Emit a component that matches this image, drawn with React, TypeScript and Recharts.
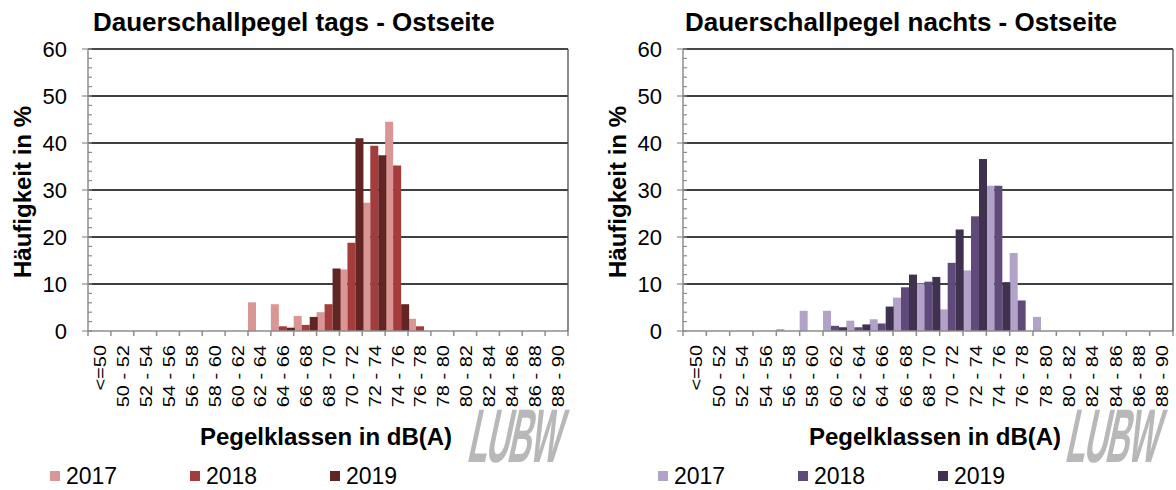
import React from "react";
import { BarChart, Bar, XAxis, YAxis, CartesianGrid, Legend } from "recharts";

// Pegelklassen (x categories)
const categories = [
  "<=50", "50 - 52", "52 - 54", "54 - 56", "56 - 58", "58 - 60", "60 - 62",
  "62 - 64", "64 - 66", "66 - 68", "68 - 70", "70 - 72", "72 - 74", "74 - 76",
  "76 - 78", "78 - 80", "80 - 82", "82 - 84", "84 - 86", "86 - 88", "88 - 90",
];
const years = ["2017", "2018", "2019"];

// Häufigkeit in %, tags
const tags2017 = [0, 0, 0, 0, 0, 0, 0, 6.1, 5.7, 3.2, 4.0, 13.1, 27.3, 44.5, 2.6, 0, 0, 0, 0, 0, 0];
const tags2018 = [0, 0, 0, 0, 0, 0, 0, 0, 1.0, 1.3, 5.7, 18.8, 39.4, 35.2, 1.0, 0, 0, 0, 0, 0, 0];
const tags2019 = [0, 0, 0, 0, 0, 0, 0, 0, 0.7, 3.0, 13.3, 41.0, 37.4, 5.7, 0, 0, 0, 0, 0, 0, 0];

// Häufigkeit in %, nachts
const nachts2017 = [0, 0, 0, 0, 0.4, 4.3, 4.3, 2.2, 2.5, 7.1, 10.1, 4.6, 12.9, 30.9, 16.6, 3.0, 0, 0, 0, 0, 0];
const nachts2018 = [0, 0, 0, 0, 0, 0, 1.1, 0.8, 1.6, 9.3, 10.5, 14.5, 24.4, 30.9, 6.5, 0, 0, 0, 0, 0, 0];
const nachts2019 = [0, 0, 0, 0, 0, 0, 0.8, 1.4, 5.2, 12.0, 11.5, 21.6, 36.6, 10.4, 0, 0, 0, 0, 0, 0, 0];

// y axis: minor ticks every 2, labels / gridlines every 10
const yTicks = [0, 2, 4, 6, 8, 10, 12, 14, 16, 18, 20, 22, 24, 26, 28, 30, 32, 34, 36, 38, 40, 42, 44, 46, 48, 50, 52, 54, 56, 58, 60];
const gridValues = [10, 20, 30, 40, 50, 60];

const tagsColors = ["#D99694", "#A33C3A", "#632523"];
const nachtsColors = ["#B3A2C7", "#604A7B", "#403151"];

const FONT = "'Liberation Sans', Arial, sans-serif";
const W = 588;
const H = 490;
const TOP = 48;
const XAXIS_H = 159;
const AXIS_GREY = "#8c8c8c";
const BORDER = "#4d4d4d";

type PanelProps = {
  left: number;
  title: string;
  series: number[][];
  colors: string[];
  axisW: number;
  rightM: number;
  titleX: number;
  yTitleX: number;
  xTitleX: number;
  legendX: number;
  logoX: number;
};

function Panel(p: PanelProps) {
  const data = categories.map((cat, i) => ({
    cat,
    v0: p.series[0][i],
    v1: p.series[1][i],
    v2: p.series[2][i],
  }));
  const plotW = W - p.axisW - p.rightM - 1;
  const half = plotW / categories.length / 2;

  // category boundary ticks + rotated labels
  const XTick = (props: any) => {
    const { x, y, payload, index } = props;
    return (
      <g>
        <line x1={x - half} x2={x - half} y1={y} y2={y + 5} stroke={AXIS_GREY} strokeWidth={1.5} />
        {index === categories.length - 1 && (
          <line x1={x + half} x2={x + half} y1={y} y2={y + 5} stroke={AXIS_GREY} strokeWidth={1.5} />
        )}
        <text
          transform={`translate(${x + 7},${y + 14}) scale(0.8,1) rotate(-90)`}
          textAnchor="end"
          fontSize={20}
          fontFamily={FONT}
          fill="#000"
        >
          {payload.value}
        </text>
      </g>
    );
  };

  const YTick = (props: any) => {
    const { x, y, payload } = props;
    const major = payload.value % 10 === 0;
    return (
      <g>
        <line x1={major ? x - 6 : x} x2={x + 4} y1={y} y2={y} stroke={AXIS_GREY} strokeWidth={1.2} />
        {major && (
          <text x={x - 21} y={y} dy={8} textAnchor="end" fontSize={22} fontFamily={FONT} fill="#000">
            {payload.value}
          </text>
        )}
      </g>
    );
  };

  return (
    <div style={{ position: "absolute", left: p.left, top: 0, width: W, height: H }}>
      <BarChart
        width={W}
        height={H}
        data={data}
        margin={{ top: TOP, right: p.rightM, bottom: 0, left: 0 }}
        barCategoryGap={0}
        barGap={0}
      >
        <CartesianGrid vertical={false} stroke="#000" strokeWidth={1.3} horizontalValues={gridValues} />
        <XAxis
          dataKey="cat"
          interval={0}
          height={XAXIS_H}
          tickSize={0}
          tickMargin={0}
          tickLine={false}
          axisLine={{ stroke: AXIS_GREY, strokeWidth: 1.5 }}
          tick={<XTick />}
        />
        <XAxis
          xAxisId="top"
          dataKey="cat"
          orientation="top"
          height={1}
          tick={false}
          tickLine={false}
          axisLine={{ stroke: BORDER, strokeWidth: 1.3 }}
        />
        <YAxis
          domain={[0, 60]}
          ticks={yTicks}
          interval={0}
          width={p.axisW}
          tickSize={0}
          tickMargin={0}
          tickLine={false}
          axisLine={{ stroke: AXIS_GREY, strokeWidth: 1.5 }}
          tick={<YTick />}
        />
        <YAxis
          yAxisId="right"
          orientation="right"
          domain={[0, 60]}
          width={1}
          tick={false}
          tickLine={false}
          axisLine={{ stroke: BORDER, strokeWidth: 1.3 }}
        />
        {years.map((yr, i) => (
          <Bar key={yr} dataKey={`v${i}`} name={yr} fill={p.colors[i]} isAnimationActive={false} />
        ))}
        <Legend
          layout="horizontal"
          verticalAlign="middle"
          align="center"
          wrapperStyle={{ left: p.legendX, top: 462, width: 440, height: 28 }}
          content={(lp: any) => (
            <div style={{ display: "flex", fontFamily: FONT, fontSize: 23, color: "#000", lineHeight: "28px" }}>
              {(lp.payload || []).map((e: any) => (
                <div key={e.value} style={{ width: 140, display: "flex", alignItems: "center" }}>
                  <span style={{ width: 10, height: 10, background: e.color, marginRight: 6, display: "inline-block" }} />
                  <span>{e.value}</span>
                </div>
              ))}
            </div>
          )}
        />
      </BarChart>
      <svg
        width={W}
        height={H}
        style={{ position: "absolute", left: 0, top: 0, pointerEvents: "none" }}
        fontFamily={FONT}
      >
        <text x={p.titleX} y={31} fontSize={26} fontWeight="bold" fill="#000">
          {p.title}
        </text>
        <text
          transform={`translate(${p.yTitleX},192) rotate(-90)`}
          textAnchor="middle"
          fontSize={24}
          fontWeight="bold"
          fill="#000"
        >
          Häufigkeit in %
        </text>
        <text x={p.xTitleX} y={445} textAnchor="middle" fontSize={24} fontWeight="bold" fill="#000">
          Pegelklassen in dB(A)
        </text>
        <text
          transform={`translate(${p.logoX},462) skewX(-12) scale(0.43,1)`}
          fontSize={76}
          fontWeight={900}
          fill="#b8b8b8"
          letterSpacing={-4}
        >
          LUBW
        </text>
      </svg>
    </div>
  );
}

export default function App() {
  return (
    <div style={{ position: "absolute", left: 0, top: 0, width: 1176, height: 490, background: "#fff" }}>
      <Panel
        left={0}
        title="Dauerschallpegel tags - Ostseite"
        series={[tags2017, tags2018, tags2019]}
        colors={tagsColors}
        axisW={88}
        rightM={19}
        titleX={93}
        yTitleX={31}
        xTitleX={326}
        legendX={50}
        logoX={466}
      />
      <Panel
        left={588}
        title="Dauerschallpegel nachts - Ostseite"
        series={[nachts2017, nachts2018, nachts2019]}
        colors={nachtsColors}
        axisW={95}
        rightM={2}
        titleX={97}
        yTitleX={38}
        xTitleX={347}
        legendX={70}
        logoX={476}
      />
    </div>
  );
}
